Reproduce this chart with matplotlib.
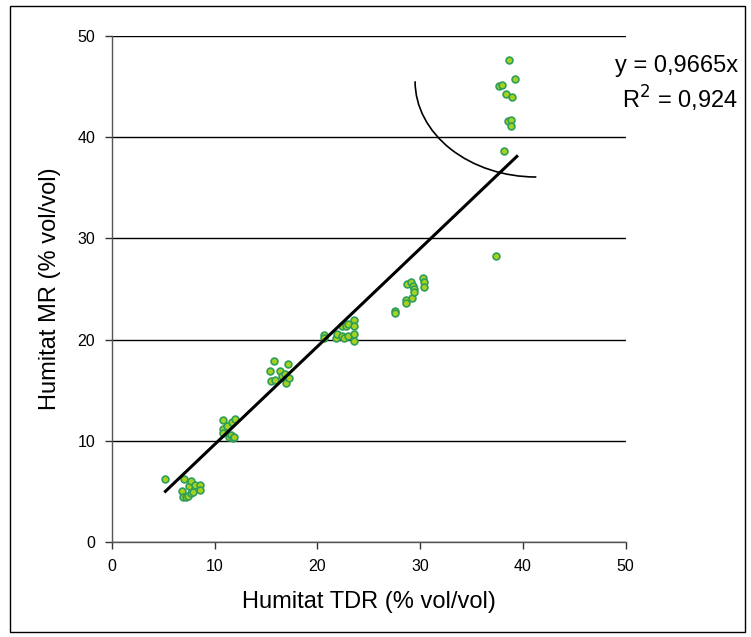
import numpy as np
import matplotlib
matplotlib.use('Agg')
import matplotlib.pyplot as plt
from matplotlib.patches import Arc, Rectangle

plt.rcParams['font.family'] = ['Liberation Sans', 'DejaVu Sans']

# humitat TDR (x) vs humitat MR (y), % vol/vol
tdr = [5.2, 7.0, 6.8, 6.9, 7.2, 7.4, 7.5, 7.7, 7.7, 7.9, 8.1, 8.6, 8.6,
       10.8, 10.8, 11.2, 10.8, 11.7, 12.0, 11.4, 11.6, 11.8, 11.9,
       15.4, 15.8, 15.5, 15.9, 16.4, 16.5, 16.8, 16.9, 16.9, 17.1, 17.2,
       20.6, 20.6, 21.8, 21.9, 22.4, 22.4, 22.6, 22.8, 23.0, 23.0,
       23.6, 23.6, 23.6, 23.6,
       27.5, 27.5, 28.6, 28.6, 29.2, 28.7, 29.1, 29.3, 29.4, 29.4,
       30.3, 30.4, 30.4, 37.4,
       38.6, 39.2, 37.7, 38.0, 38.3, 38.9, 38.5, 38.8, 38.8, 38.2]
mr = [6.2, 6.2, 5.1, 4.5, 4.5, 4.6, 5.6, 6.0, 4.9, 5.0, 5.7, 5.7, 5.2,
      12.1, 11.2, 11.5, 10.8, 11.9, 12.2, 10.4, 10.6, 10.3, 10.4,
      16.9, 17.9, 15.9, 16.0, 16.9, 16.4, 16.6, 16.1, 15.7, 17.6, 16.2,
      20.5, 20.2, 20.2, 20.6, 21.3, 20.4, 20.2, 21.3, 21.5, 20.4,
      21.9, 21.3, 20.6, 19.9,
      22.8, 22.6, 23.9, 23.6, 24.1, 25.5, 25.7, 25.3, 25.0, 24.7,
      26.1, 25.7, 25.2, 28.3,
      47.6, 45.7, 45.0, 45.1, 44.2, 43.9, 41.6, 41.7, 41.1, 38.6]

slope = 0.9665
fit_x = [5.2, 39.4]
eq_text = 'y = 0,9665x'
r2_text = 'R$^2$ = 0,924'

fig = plt.figure(figsize=(7.51, 6.37), dpi=100)
ax = fig.add_axes([0.1491, 0.1487, 0.6841, 0.7953])

ax.set_xlim(0, 50)
ax.set_ylim(0, 50)
ax.set_xticks([0, 10, 20, 30, 40, 50])
ax.set_yticks([0, 10, 20, 30, 40, 50])
ax.yaxis.grid(True, color='black', linewidth=1.0)
ax.set_axisbelow(True)
for s in ['top', 'right']:
    ax.spines[s].set_visible(False)
for s in ['left', 'bottom']:
    ax.spines[s].set_color('#555555')
    ax.spines[s].set_linewidth(1.0)
ax.tick_params(direction='out', length=5, width=1, color='#333333',
               labelsize=11.5, pad=7)

ax.scatter(tdr, mr, s=24, c='#a6d21e', edgecolors='#2e9e5a',
           linewidths=1.2, zorder=3, clip_on=False)

fx = np.array(fit_x)
ax.plot(fx, slope * fx, color='black', linewidth=2.2, zorder=4)

# callout arc from the equation to the trend line
ax.add_patch(Arc((41.3, 45.5), 2 * 11.8, 2 * 9.45, theta1=180, theta2=270,
                 color='black', linewidth=1.2, zorder=4))

ax.set_xlabel('Humitat TDR (% vol/vol)', fontsize=17, labelpad=12)
ax.set_ylabel('Humitat MR (% vol/vol)', fontsize=17, labelpad=12)

fig.text(0.9015, 0.897, eq_text, fontsize=17, ha='center', va='center')
fig.text(0.905, 0.845, r2_text, fontsize=17, ha='center', va='center')

fig.patches.append(Rectangle((10 / 751, 1 - 632 / 637), 735 / 751, 626 / 637,
                             transform=fig.transFigure, fill=False,
                             edgecolor='black', linewidth=1.0))

fig.savefig('out.png', dpi=100)
